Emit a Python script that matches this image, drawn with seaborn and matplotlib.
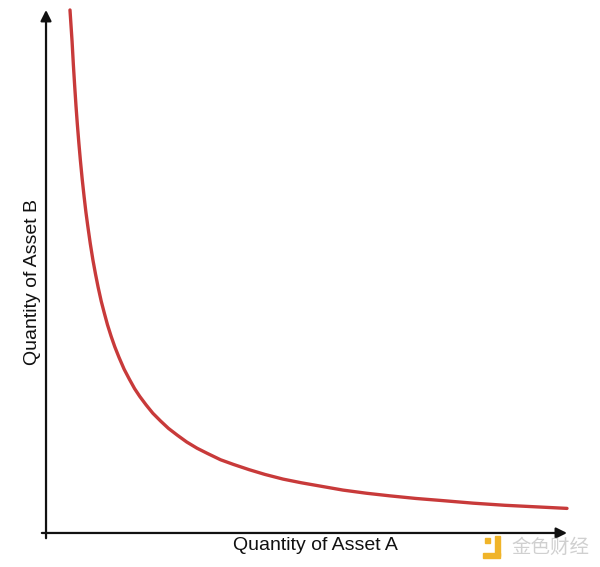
import matplotlib
matplotlib.use("Agg")
import matplotlib.pyplot as plt
import matplotlib.patches as mpatches
import seaborn as sns

# values (constant-product style curve)
asset_a = [4.6, 4.8, 5.0, 5.25, 5.5, 5.75, 6.0, 6.3, 6.6, 6.95, 7.3, 7.65, 8.0, 8.5,
           9.0, 9.5, 10.0, 10.6, 11.2, 11.8, 12.5, 13.2, 14.0, 15.0, 16.0, 17.0,
           18.0, 19.2, 20.5, 22.0, 23.5, 25.2, 27.0, 29.0, 31.0, 33.5, 36.0, 39.0,
           42.0, 45.5, 49.0, 53.0, 57.0, 61.5, 66.0, 71.0, 76.0, 82.0, 88.0, 94.0, 100.0]
asset_b = [100.0, 97.0, 94.0, 89.5, 85.5, 81.7, 78.3, 74.6, 71.2, 67.6, 64.4, 61.4,
           58.8, 55.3, 52.2, 49.5, 47.0, 44.3, 42.0, 39.8, 37.6, 35.6, 33.6, 31.3,
           29.4, 27.6, 26.1, 24.5, 22.9, 21.4, 20.0, 18.7, 17.4, 16.2, 15.2, 14.0,
           13.1, 12.1, 11.2, 10.3, 9.6, 8.9, 8.2, 7.6, 7.1, 6.6, 6.2, 5.7, 5.3, 5.0, 4.7]
x_label = "Quantity of Asset A"
y_label = "Quantity of Asset B"
watermark = "金色财经"

sns.set_style("white")
plt.rcParams["font.family"] = ["Liberation Sans", "Noto Sans CJK SC", "DejaVu Sans"]

fig = plt.figure(figsize=(6.0, 5.67), dpi=100)
ax = fig.add_axes([0.0767, 0.06, 0.8683, 0.9224])

sns.lineplot(x=asset_a, y=asset_b, ax=ax, color="#c83a3a", linewidth=2.4,
             sort=False, clip_on=False)

ax.set_xlim(0, 100)
ax.set_ylim(0, 100)
for s in ax.spines.values():
    s.set_visible(False)
ax.set_xticks([])
ax.set_yticks([])
ax.set_xlabel("")
ax.set_ylabel("")

# axes drawn as arrows
arrow = dict(arrowstyle="-|>", color="#111111", lw=1.6, mutation_scale=16,
             shrinkA=0, shrinkB=0)
ax.annotate("", xy=(100, 0), xytext=(-0.8, 0), xycoords="data",
            arrowprops=arrow, annotation_clip=False)
ax.annotate("", xy=(0, 100), xytext=(0, -1.0), xycoords="data",
            arrowprops=arrow, annotation_clip=False)

fig.text(315 / 600, 1 - 546 / 567, x_label, ha="center", va="center",
         fontsize=14, color="#111111")
fig.text(33 / 600, 1 - 282 / 567, y_label, ha="center", va="center",
         rotation=90, fontsize=14, color="#111111")

# watermark in the bottom right corner
fig.patches.append(mpatches.Rectangle((485 / 600, 1 - 543 / 567), 5 / 600, 5 / 567,
                                      transform=fig.transFigure, color="#f0b429"))
fig.patches.append(mpatches.Rectangle((495 / 600, 1 - 556 / 567), 5 / 600, 20 / 567,
                                      transform=fig.transFigure, color="#f0b429"))
fig.patches.append(mpatches.Rectangle((483 / 600, 1 - 558 / 567), 17 / 600, 5 / 567,
                                      transform=fig.transFigure, color="#f0b429"))
fig.text(550 / 600, 1 - 547 / 567, watermark, ha="center", va="center",
         fontsize=14, color="#d0d0d0", family=["Noto Sans CJK SC", "DejaVu Sans"])

fig.savefig("out.png", dpi=100, facecolor="white")
